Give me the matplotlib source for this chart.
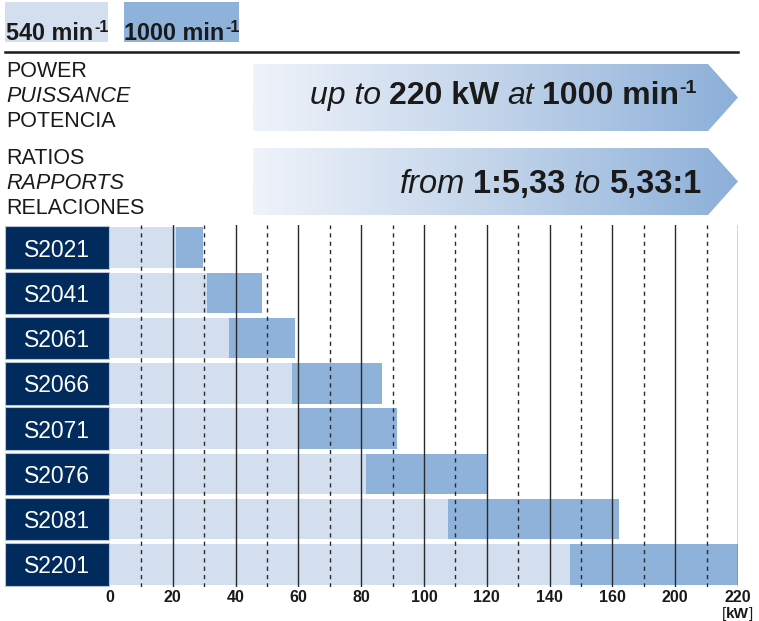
import numpy as np
import matplotlib.pyplot as plt
from matplotlib.patches import Rectangle, Polygon
from matplotlib.colors import LinearSegmentedColormap
from matplotlib.transforms import blended_transform_factory

plt.rcParams['font.family'] = ['Liberation Sans', 'DejaVu Sans']

# data (power in kW)
models = ['S2021', 'S2041', 'S2061', 'S2066', 'S2071', 'S2076', 'S2081', 'S2201']
kw_540 = [21, 31, 38, 58, 60, 81.5, 107.5, 146.5]
kw_1000 = [29.5, 48.5, 59, 86.5, 91.5, 120, 162, 200]
tick_pos = [0, 20, 40, 60, 80, 100, 120, 140, 160, 180, 200]
tick_labels = ['0', '20', '40', '60', '80', '100', '120', '140', '160', '200', '220']

LIGHT = '#d3dfee'
DARK = '#8fb2da'
NAVY = '#002b5c'
INK = '#1a1a1a'

fig = plt.figure(figsize=(7.59, 6.21), dpi=100)

# background axes in pixel units for the header decorations
bg = fig.add_axes([0, 0, 1, 1])
bg.axis('off')


def rich(x, y, parts, ha='left'):
    # parts: (text, weight, style, size, rise, gap before)
    r = fig.canvas.get_renderer()
    arts = []
    widths = []
    for s, w, st, sz, rise, gap in parts:
        t = bg.text(0, y - rise, s, fontweight=w, fontstyle=st, fontsize=sz,
                    color=INK, va='baseline', ha='left')
        arts.append(t)
        widths.append(t.get_window_extent(r).width)
    total = sum(widths) + sum(p[5] for p in parts)
    cx = x - total if ha == 'right' else x
    for t, wd, p in zip(arts, widths, parts):
        cx += p[5]
        t.set_x(cx)
        cx += wd


# legend boxes
bg.add_patch(Rectangle((5, 2), 103, 40, facecolor=LIGHT, edgecolor='none'))
bg.add_patch(Rectangle((124, 2), 115, 40, facecolor=DARK, edgecolor='none'))
bg.plot([5, 738], [52, 52], color=INK, lw=1.8)

# banners with gradient
cmap = LinearSegmentedColormap.from_list('ban', ['#eff3fa', '#c2d4ea', '#8cafd9'])
grad = np.linspace(0, 1, 256).reshape(1, -1)
for top, bot in [(64, 131), (148, 215)]:
    mid = (top + bot) / 2
    poly = Polygon([(253, top), (708, top), (738, mid), (708, bot), (253, bot)],
                   closed=True, facecolor='none', edgecolor='none')
    bg.add_patch(poly)
    im = bg.imshow(grad, extent=(253, 738, bot, top), cmap=cmap, aspect='auto',
                   interpolation='bilinear')
    im.set_clip_path(poly)

bg.set_xlim(0, 759)
bg.set_ylim(621, 0)

# left captions
for txt, yy, st in [('POWER', 77, 'normal'), ('PUISSANCE', 102, 'italic'),
                    ('POTENCIA', 127, 'normal'), ('RATIOS', 164, 'normal'),
                    ('RAPPORTS', 189, 'italic'), ('RELACIONES', 214, 'normal')]:
    bg.text(6, yy, txt, fontsize=15.5, fontstyle=st, color=INK, va='baseline')

rich(6, 40, [('540 min', 'bold', 'normal', 16.8, 0, 0),
             ('-1', 'bold', 'normal', 11.5, 8, 1)])
rich(124, 40, [('1000 min', 'bold', 'normal', 16.8, 0, 0),
               ('-1', 'bold', 'normal', 11.5, 8, 1)])

rich(697, 104, [('up to', 'normal', 'italic', 23, 0, 0),
                ('220 kW', 'bold', 'normal', 23, 0, 8),
                ('at', 'normal', 'italic', 23, 0, 8),
                ('1000 min', 'bold', 'normal', 23, 0, 8),
                ('-1', 'bold', 'normal', 14, 11, 1)], ha='right')
rich(701, 193, [('from', 'normal', 'italic', 23.5, 0, 0),
                ('1:5,33', 'bold', 'normal', 23.5, 0, 8),
                ('to', 'normal', 'italic', 23.5, 0, 8),
                ('5,33:1', 'bold', 'normal', 23.5, 0, 8)], ha='right')

# bar chart
ax = fig.add_axes([110 / 759, 1 - 587 / 621, 628 / 759, 362 / 621])
ypos = np.arange(len(models))
ax.barh(ypos, kw_540, height=0.9, color=LIGHT, zorder=1)
ax.barh(ypos, np.array(kw_1000) - np.array(kw_540), left=kw_540, height=0.9,
        color=DARK, zorder=1)
for v in range(20, 201, 20):
    ax.axvline(v, color='#2a2a2a', lw=1, zorder=3)
for v in range(10, 200, 20):
    ax.axvline(v, color='#2a2a2a', lw=1, ls=(0, (3, 3)), zorder=3)
ax.set_xlim(0, 200)
ax.set_ylim(len(models) - 0.5, -0.5)
ax.set_xticks(tick_pos, tick_labels, fontweight='bold', fontsize=11.5, color=INK)
ax.tick_params(axis='x', length=0, pad=2.5)
ax.set_yticks([])
for s in ax.spines.values():
    s.set_visible(False)
ax.patch.set_visible(False)

tr = blended_transform_factory(ax.transAxes, ax.transData)
for i, m in enumerate(models):
    ax.add_patch(Rectangle((-105 / 628, i - 0.47), 104 / 628, 0.94, transform=tr,
                           facecolor=NAVY, edgecolor='#b9c5d6', lw=0.8, clip_on=False))
    ax.text(-53 / 628, i, m, transform=tr, color='white', fontsize=16.5,
            ha='center', va='center_baseline', clip_on=False)

rich(753, 618, [('[', 'normal', 'normal', 11, 0, 0),
                ('kW', 'bold', 'normal', 11, 0, 0),
                (']', 'normal', 'normal', 11, 0, 0)], ha='right')

fig.savefig('out.png', dpi=100)
